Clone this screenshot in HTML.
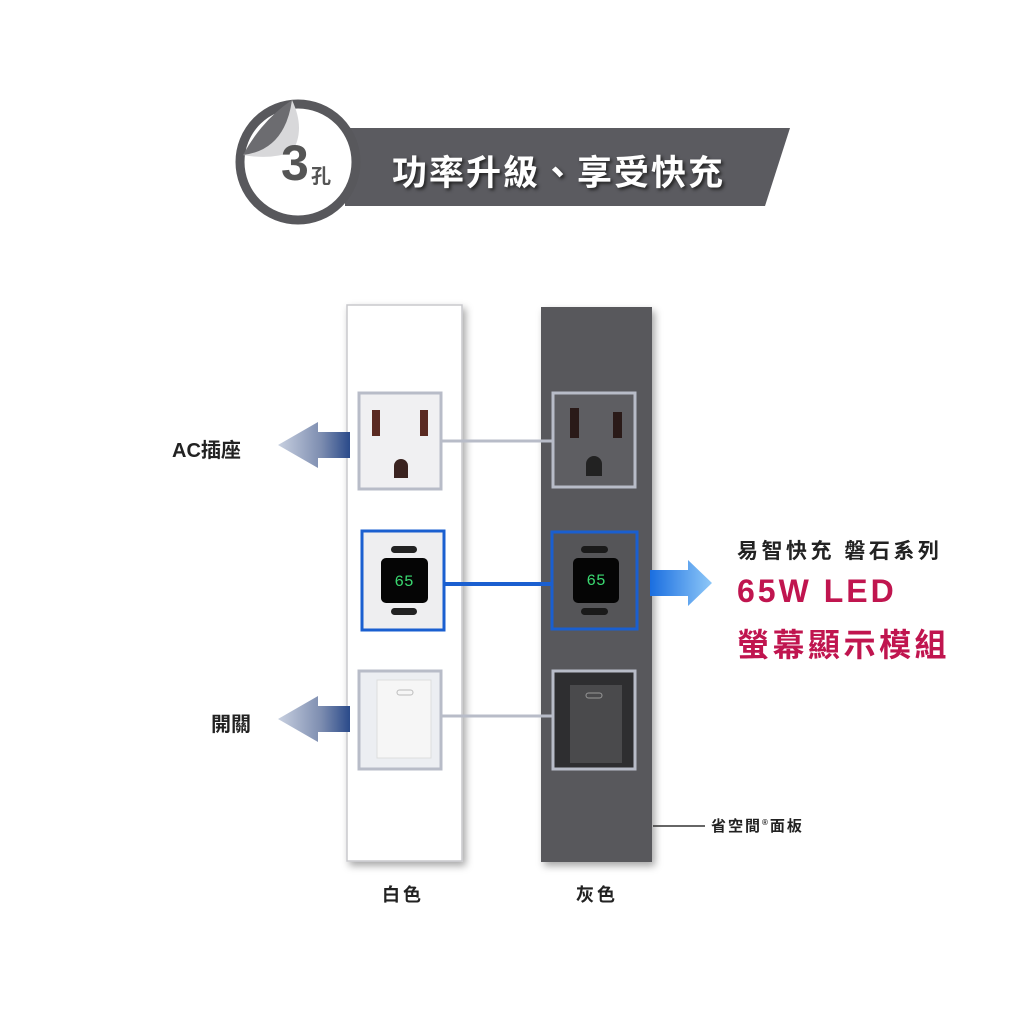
<!DOCTYPE html>
<html><head><meta charset="utf-8"><style>
body{margin:0;width:1024px;height:1024px;background:#fff;position:relative;overflow:hidden;font-family:"Liberation Sans","Noto Sans CJK TC",sans-serif}
.t{position:absolute;white-space:nowrap;font-weight:bold;color:#222}
</style></head><body>
<svg width="1024" height="1024" style="position:absolute;left:0;top:0">
<defs>
<linearGradient id="ga" x1="0" x2="1"><stop offset="0" stop-color="#c8d0e0"/><stop offset="0.6" stop-color="#7d8db0"/><stop offset="1" stop-color="#2a4a8a"/></linearGradient>
<linearGradient id="gb" x1="0" x2="1"><stop offset="0" stop-color="#1a6ee0"/><stop offset="1" stop-color="#8ec8f8"/></linearGradient>
<filter id="sh"><feDropShadow dx="3" dy="4" stdDeviation="4" flood-opacity="0.35"/></filter>
</defs>
<polygon points="345,128 790,128 765,206 345,206" fill="#5b5b60"/>
<circle cx="298" cy="162" r="58" fill="#fff" stroke="#58585c" stroke-width="9"/>
<path d="M243,155 Q262,120 292,100 Q300,125 290,150 Q270,158 243,155Z" fill="#6c6c70"/>
<path d="M292,100 Q306,130 292,152 Q270,160 243,155 Q285,150 292,100Z" fill="#d8d8da"/>
<rect x="347" y="305" width="115" height="556" fill="#fff" stroke="#c8c8cc" stroke-width="1.5" filter="url(#sh)"/>
<rect x="541" y="307" width="111" height="555" fill="#58585c" filter="url(#sh)"/>
<line x1="442" y1="441" x2="552" y2="441" stroke="#b8bcc8" stroke-width="3"/>
<line x1="445" y1="584" x2="552" y2="584" stroke="#1a5fd0" stroke-width="4"/>
<line x1="442" y1="716" x2="552" y2="716" stroke="#b8bcc8" stroke-width="3"/>
<rect x="359" y="393" width="82" height="96" fill="#f0f0f2" stroke="#b8bcc8" stroke-width="3"/>
<rect x="372" y="410" width="8" height="26" fill="#5a2a22"/><rect x="420" y="410" width="8" height="26" fill="#5a2a22"/>
<path d="M394,478 v-12 a7,7 0 0 1 14,0 v12z" fill="#3a2320"/>
<rect x="553" y="393" width="82" height="94" fill="#5e5e62" stroke="#b8bcc8" stroke-width="3"/>
<rect x="570" y="408" width="9" height="30" fill="#2a1a18"/><rect x="613" y="412" width="9" height="26" fill="#2a1a18"/>
<path d="M586,476 v-12 a8,8 0 0 1 16,0 v12z" fill="#222"/>
<rect x="362" y="531" width="82" height="99" fill="#eeeef0" stroke="#1a5fd0" stroke-width="3"/>
<rect x="391" y="546" width="26" height="7" rx="3.5" fill="#222"/>
<rect x="381" y="558" width="47" height="45" rx="5" fill="#050505"/>
<rect x="391" y="608" width="26" height="7" rx="3.5" fill="#222"/>
<rect x="552" y="532" width="85" height="97" fill="#555558" stroke="#1a5fd0" stroke-width="3"/>
<rect x="581" y="546" width="27" height="7" rx="3.5" fill="#1a1a1a"/>
<rect x="573" y="558" width="46" height="45" rx="5" fill="#050505"/>
<rect x="581" y="608" width="27" height="7" rx="3.5" fill="#1a1a1a"/>
<text x="404" y="586" font-family="Liberation Mono,monospace" font-size="16" fill="#3ad870" text-anchor="middle">65</text>
<text x="596" y="585" font-family="Liberation Mono,monospace" font-size="16" fill="#3ad870" text-anchor="middle">65</text>
<rect x="359" y="671" width="82" height="98" fill="#eceef2" stroke="#b8bcc8" stroke-width="3"/>
<rect x="377" y="680" width="54" height="78" fill="#f6f6f6" stroke="#ddd"/>
<rect x="397" y="690" width="16" height="5" rx="2.5" fill="none" stroke="#bbb"/>
<rect x="553" y="671" width="82" height="98" fill="#2e2e30" stroke="#b8bcc8" stroke-width="3"/>
<rect x="570" y="685" width="52" height="78" fill="#4a4a4c"/>
<rect x="586" y="693" width="16" height="5" rx="2.5" fill="none" stroke="#999"/>
<polygon points="278,445 318,422 318,432 350,432 350,458 318,458 318,468" fill="url(#ga)"/>
<polygon points="278,719 318,696 318,706 350,706 350,732 318,732 318,742" fill="url(#ga)"/>
<polygon points="712,583 688,560 688,570 650,570 650,596 688,596 688,606" fill="url(#gb)"/>
<line x1="653" y1="826" x2="705" y2="826" stroke="#333" stroke-width="1.5"/>
</svg>
<div class="t" style="left:281px;top:134px;font-size:50px;color:#555">3</div>
<div class="t" style="left:311px;top:160px;font-size:20px;color:#555">孔</div>
<div class="t" style="left:392px;top:145px;font-size:35px;color:#fff;letter-spacing:2px;text-shadow:2px 2px 3px #222">功率升級、享受快充</div>
<div class="t" style="left:172px;top:434px;font-size:20px">AC插座</div>
<div class="t" style="left:211px;top:708px;font-size:20px">開關</div>
<div class="t" style="left:737px;top:535px;font-size:21px;letter-spacing:3.5px">易智快充 磐石系列</div>
<div class="t" style="left:737px;top:573px;font-size:32px;color:#c0154f;letter-spacing:3px">65W LED</div>
<div class="t" style="left:737px;top:620px;font-size:32px;color:#c0154f;letter-spacing:3.5px">螢幕顯示模組</div>
<div class="t" style="left:711px;top:815px;font-size:15px;letter-spacing:2px">省空間<sup style="font-size:8px">®</sup>面板</div>
<div class="t" style="left:382px;top:881px;font-size:18px;letter-spacing:3px">白色</div>
<div class="t" style="left:576px;top:881px;font-size:18px;letter-spacing:3px">灰色</div>
</body></html>
